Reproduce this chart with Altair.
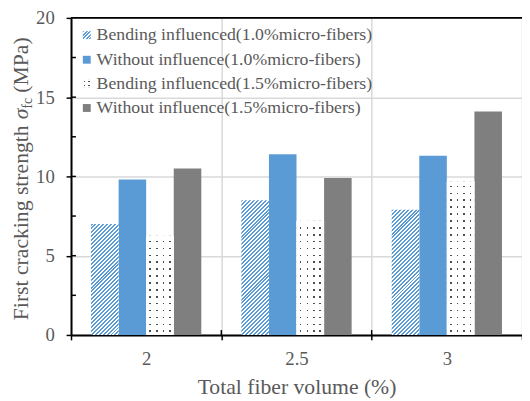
import altair as alt
import pandas as pd

# ---------------- data ----------------
volumes = ["2", "2.5", "3"]
series = [
    "Bending influenced(1.0%micro-fibers)",
    "Without influence(1.0%micro-fibers)",
    "Bending influenced(1.5%micro-fibers)",
    "Without influence(1.5%micro-fibers)",
]
bending_10 = [7.0, 8.5, 7.9]
without_10 = [9.8, 11.4, 11.3]
bending_15 = [6.25, 7.2, 9.7]
without_15 = [10.5, 9.9, 14.1]
y_ticks = [0, 5, 10, 15, 20]
minor_ticks = [2.5, 7.5, 12.5, 17.5]
major_inner = [5, 10, 15]
x_title = "Total fiber volume (%)"
y_title_parts = ["First cracking strength", "σ", "fc", "(MPa)"]

values_by_series = [bending_10, without_10, bending_15, without_15]
rows = []
for s, vals in zip(series, values_by_series):
    for v, val in zip(volumes, vals):
        rows.append({"volume": v, "series": s, "value": val})
df = pd.DataFrame(rows)

# ---------------- style ----------------
W = 458
H = 322
YMAX = 20
FONT = "'Liberation Serif', 'Times New Roman', Times, serif"
TXT = "#595959"
BLUE = "#5b9bd5"
GRAY = "#7f7f7f"
GRID = "#d9d9d9"
PO = 0.727
BAR_W = W / 3 / (4 + 2 * PO)
WHITE = "#ffffff"
CLEAR = "rgba(255,255,255,0)"


def hatch_gradient(h, w=BAR_W, period=4.0, color=BLUE):
    L = w + h
    t = L / (w * w + h * h)
    stops = []
    k = 0
    while k * period < L:
        a = min(k * period / L, 1)
        b = min((k * period + period * 0.5) / L, 1)
        c = min((k + 1) * period / L, 1)
        stops += [
            {"offset": a, "color": color},
            {"offset": b, "color": color},
            {"offset": b, "color": WHITE},
            {"offset": c, "color": WHITE},
        ]
        k += 1
    return {"gradient": "linear", "x1": 0, "y1": 0, "x2": t * w, "y2": t * h, "stops": stops}


def columns_gradient(w, centers, dot=1.6, color="#4d4d4d"):
    stops = [{"offset": 0, "color": WHITE}]
    for c in centers:
        a = (c - dot / 2) / w
        b = (c + dot / 2) / w
        stops += [
            {"offset": a, "color": WHITE},
            {"offset": a, "color": color},
            {"offset": b, "color": color},
            {"offset": b, "color": WHITE},
        ]
    stops.append({"offset": 1, "color": WHITE})
    return {"gradient": "linear", "x1": 0, "y1": 0, "x2": 1, "y2": 0, "stops": stops}


def rows_gradient(h, spacing=7.0, dot=1.6, phase=3.0):
    stops = [{"offset": 0, "color": WHITE}]
    pos = []
    y = phase
    while y + dot < h:
        pos.append(h - y - dot)
        y += spacing
    for p in sorted(pos):
        a = p / h
        b = (p + dot) / h
        stops += [
            {"offset": a, "color": WHITE},
            {"offset": a, "color": CLEAR},
            {"offset": b, "color": CLEAR},
            {"offset": b, "color": WHITE},
        ]
    stops.append({"offset": 1, "color": WHITE})
    return {"gradient": "linear", "x1": 0, "y1": 0, "x2": 0, "y2": 1, "stops": stops}


DOT_COLS = [4.0, 11.0, 17.5, 24.0]

x_axis = alt.Axis(
    title=x_title, labelAngle=0, tickBand="extent", grid=True, gridColor=GRID, gridWidth=1.5,
    domainColor="black", domainWidth=2, tickColor="black", tickWidth=1.5, tickSize=5,
    labelFont=FONT, labelFontSize=19, labelColor=TXT, labelPadding=10,
    titleFont=FONT, titleFontSize=22, titleFontWeight="normal", titleColor=TXT,
    titleBaseline="alphabetic", titleY=59,
)
y_axis = alt.Axis(
    title=None, values=y_ticks, grid=True, gridColor=GRID, gridWidth=1.5,
    domainColor="black", domainWidth=2, tickColor="black", tickWidth=1.5, tickSize=5,
    labelFont=FONT, labelFontSize=19, labelColor=TXT, labelPadding=12,
)

x_scale = alt.Scale(domain=volumes, paddingInner=0, paddingOuter=0)
X = alt.X("volume:N", sort=volumes, scale=x_scale, axis=x_axis)
XO = alt.XOffset("series:N", sort=series, scale=alt.Scale(domain=series, paddingInner=0, paddingOuter=PO))
Y = alt.Y("value:Q", scale=alt.Scale(domain=[0, YMAX], nice=False, zero=True), axis=y_axis)

layers = []

# solid bars
layers.append(
    alt.Chart(df)
    .transform_filter(alt.FieldOneOfPredicate(field="series", oneOf=[series[1], series[3]]))
    .mark_bar()
    .encode(
        x=X, xOffset=XO, y=Y,
        color=alt.Color("series:N", scale=alt.Scale(domain=[series[1], series[3]], range=[BLUE, GRAY]), legend=None),
    )
)

# patterned bars, one layer per bar
for i, v in enumerate(volumes):
    h = bending_10[i] / YMAX * H
    layers.append(
        alt.Chart(df)
        .transform_filter((alt.datum.series == series[0]) & (alt.datum.volume == v))
        .mark_bar(fill=hatch_gradient(h))
        .encode(x=X, xOffset=XO, y=Y)
    )
    h2 = bending_15[i] / YMAX * H
    layers.append(
        alt.Chart(df)
        .transform_filter((alt.datum.series == series[2]) & (alt.datum.volume == v))
        .mark_bar(fill=columns_gradient(BAR_W, DOT_COLS))
        .encode(x=X, xOffset=XO, y=Y)
    )
    layers.append(
        alt.Chart(df)
        .transform_filter((alt.datum.series == series[2]) & (alt.datum.volume == v))
        .mark_bar(fill=rows_gradient(h2))
        .encode(x=X, xOffset=XO, y=Y)
    )

# inner halves of the y ticks (major and minor)
layers.append(
    alt.Chart(pd.DataFrame({"value": major_inner + minor_ticks}))
    .mark_rule(color="black", strokeWidth=1.5)
    .encode(y=Y, x=alt.value(0), x2=alt.value(5))
)
# inner halves of the x ticks
layers.append(
    alt.Chart(pd.DataFrame({"volume": volumes[1:]}))
    .mark_rule(color="black", strokeWidth=1.5)
    .encode(x=alt.X("volume:N", sort=volumes, scale=x_scale, axis=x_axis, bandPosition=0),
            y=alt.value(H - 5), y2=alt.value(H))
)
# top frame line
layers.append(
    alt.Chart(pd.DataFrame({"a": [0]}))
    .mark_rule(color="black", strokeWidth=2)
    .encode(x=alt.value(0), x2=alt.value(W), y=alt.value(0))
)

# legend (manual, to allow patterned swatches)
LEG_Y = [17.5, 42.5, 67, 91.5]
SW = 8
sw_fills = [
    [hatch_gradient(SW, w=SW, period=3.5)],
    [BLUE],
    [columns_gradient(SW, [1.5, 6.0]), rows_gradient(SW, spacing=4.0, phase=1.5)],
    [GRAY],
]
for i, name in enumerate(series):
    yc = LEG_Y[i]
    for f in sw_fills[i]:
        layers.append(
            alt.Chart(pd.DataFrame({"a": [0]}))
            .mark_rect(fill=f)
            .encode(x=alt.value(12), x2=alt.value(12 + SW), y=alt.value(yc - SW / 2), y2=alt.value(yc + SW / 2))
        )
    layers.append(
        alt.Chart(pd.DataFrame({"label": [name]}))
        .mark_text(align="left", baseline="middle", font=FONT, fontSize=18, color=TXT)
        .encode(text="label:N", x=alt.value(26), y=alt.value(yc))
    )

# y-axis title made of parts (italic sigma and subscript)
TX = -44
title_specs = [
    (y_title_parts[0], 307, TX, 22, "normal"),
    (y_title_parts[1], 103, TX, 22, "italic"),
    (y_title_parts[2], 92, TX + 4, 14, "normal"),
    (y_title_parts[3], 76, TX, 22, "normal"),
]
for txt, yy, xx, fs, style in title_specs:
    layers.append(
        alt.Chart(pd.DataFrame({"label": [txt]}))
        .mark_text(align="left", baseline="alphabetic", angle=270, font=FONT, fontSize=fs,
                   fontStyle=style, color=TXT)
        .encode(text="label:N", x=alt.value(xx), y=alt.value(yy))
    )

chart = (
    alt.layer(*layers)
    .properties(
        width=W, height=H,
        autosize=alt.AutoSizeParams(type="none"),
        padding={"left": 64, "top": 7, "right": 0, "bottom": 62},
        background="white",
    )
    .configure_view(stroke=None)
)

chart.save("out.html", embed_options={"renderer": "svg", "actions": False})
